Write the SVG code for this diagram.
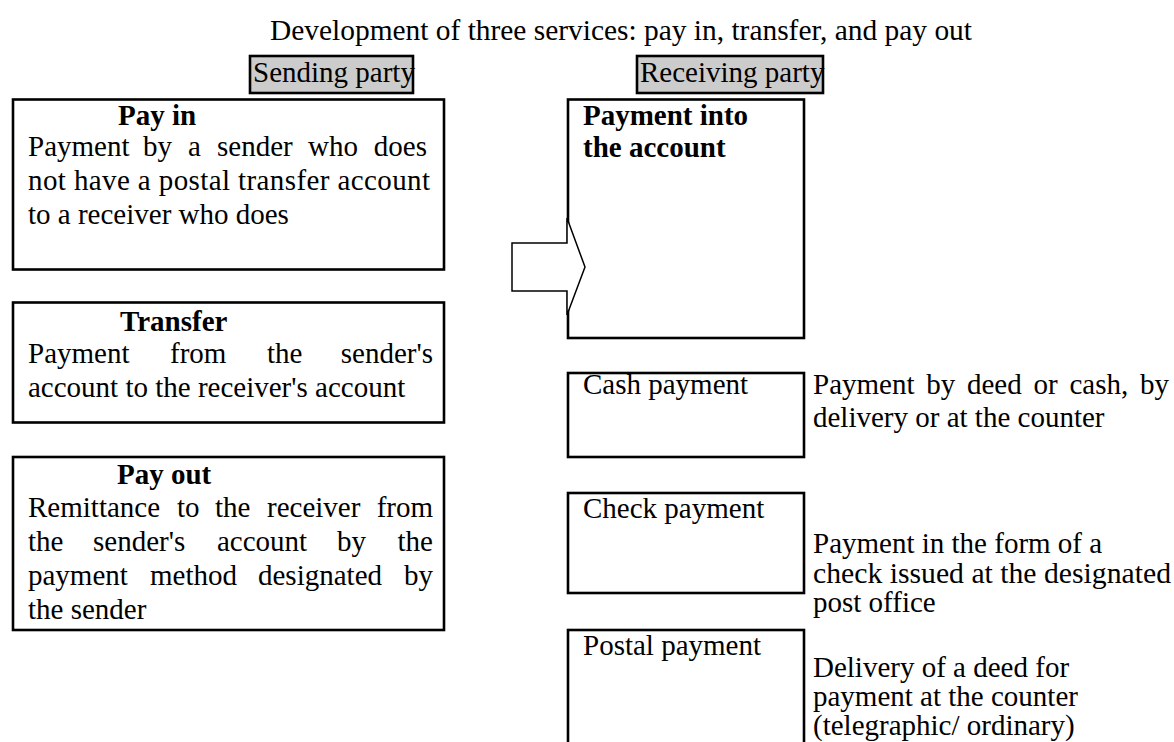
<svg xmlns="http://www.w3.org/2000/svg" width="1174" height="742" viewBox="0 0 1174 742">
  <style>
    text { font-family: "Liberation Serif", "Times New Roman", serif; font-size: 29px; fill: #000; }
    .b { font-weight: bold; }
    .e { text-anchor: end; }
    .box { fill: #fff; stroke: #000; stroke-width: 2.6; }
    .hdr { fill: #cccccc; stroke: #000; stroke-width: 2.6; }
    .arrow { fill: #fff; stroke: #000; stroke-width: 1.5; stroke-linejoin: miter; }
  </style>
  <rect width="1174" height="742" fill="#fff"/>

  <text id="title" x="270" y="40" textLength="702" lengthAdjust="spacingAndGlyphs">Development of three services: pay in, transfer, and pay out</text>

  <!-- column headers -->
  <g id="hdr-sending">
    <rect class="hdr" x="250" y="56" width="163" height="37"/>
    <text x="253" y="82">Sending party</text>
  </g>
  <g id="hdr-receiving">
    <rect class="hdr" x="637" y="56" width="186" height="37"/>
    <text x="640" y="82">Receiving party</text>
  </g>

  <!-- sending side services (justified lines set word by word) -->
  <g id="pay-in">
    <rect class="box" x="13" y="99.5" width="431" height="170"/>
    <text class="b" x="118" y="125">Pay in</text>
    <text y="156"><tspan x="28">Payment</tspan><tspan x="143">by</tspan><tspan x="188">a</tspan><tspan x="217">sender</tspan><tspan x="308">who</tspan></text>
    <text class="e" x="427" y="156">does</text>
    <text x="28" y="190" textLength="402" lengthAdjust="spacing">not have a postal transfer account</text>
    <text x="28" y="224">to a receiver who does</text>
  </g>

  <g id="transfer">
    <rect class="box" x="13" y="302.5" width="431" height="120"/>
    <text class="b" x="120" y="331">Transfer</text>
    <text y="363"><tspan x="28">Payment</tspan><tspan x="170">from</tspan><tspan x="267">the</tspan></text>
    <text class="e" x="433" y="363">sender's</text>
    <text x="28" y="397">account to the receiver's account</text>
  </g>

  <g id="pay-out">
    <rect class="box" x="13" y="457" width="431" height="173"/>
    <text class="b" x="117" y="484">Pay out</text>
    <text y="517"><tspan x="28">Remittance</tspan><tspan x="177">to</tspan><tspan x="215">the</tspan><tspan x="267">receiver</tspan></text>
    <text class="e" x="433" y="517">from</text>
    <text y="551"><tspan x="28">the</tspan><tspan x="93">sender's</tspan><tspan x="217">account</tspan><tspan x="337">by</tspan></text>
    <text class="e" x="433" y="551">the</text>
    <text y="585"><tspan x="28">payment</tspan><tspan x="150">method</tspan><tspan x="258">designated</tspan></text>
    <text class="e" x="433" y="585">by</text>
    <text x="28" y="619">the sender</text>
  </g>

  <!-- receiving side -->
  <g id="payment-into-account">
    <rect class="box" x="568" y="99.5" width="236" height="238.5"/>
    <text class="b" x="583" y="125">Payment into</text>
    <text class="b" x="583" y="157">the account</text>
  </g>

  <g id="cash-payment">
    <rect class="box" x="568" y="373" width="236" height="84"/>
    <text x="583" y="394">Cash payment</text>
    <text x="813" y="394" word-spacing="4.5">Payment by deed or cash, by</text>
    <text x="813" y="427">delivery or at the counter</text>
  </g>

  <g id="check-payment">
    <rect class="box" x="568" y="493" width="236" height="100"/>
    <text x="583" y="518">Check payment</text>
    <text x="813" y="553">Payment in the form of a</text>
    <text x="813" y="583" textLength="358" lengthAdjust="spacingAndGlyphs">check issued at the designated</text>
    <text x="813" y="612">post office</text>
  </g>

  <g id="postal-payment">
    <rect class="box" x="568" y="630" width="236" height="130"/>
    <text x="583" y="655">Postal payment</text>
    <text x="813" y="677">Delivery of a deed for</text>
    <text x="813" y="706">payment at the counter</text>
    <text x="813" y="735">(telegraphic/ ordinary)</text>
  </g>

  <!-- block arrow into the account box -->
  <g id="connectors">
    <polygon class="arrow" points="512,243 567,243 567,218 585,267 567,315 567,291 512,291"/>
  </g>
</svg>
